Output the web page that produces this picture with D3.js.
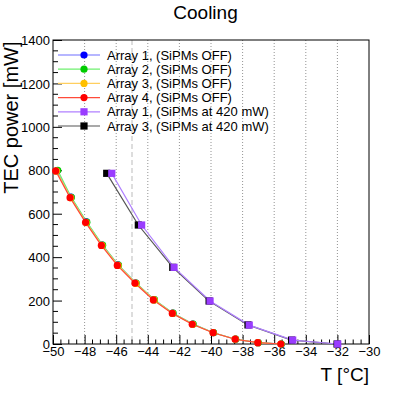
<!DOCTYPE html>
<html>
<head>
<meta charset="utf-8">
<script src="https://cdn.jsdelivr.net/npm/d3@7"></script>
<style>
  body { margin: 0; background: #fff; }
  svg { display: block; font-family: "Liberation Sans", Arial, sans-serif; }
</style>
</head>
<body>
<script>
// Chart values
var seriesNames = [
  "Array 1, (SiPMs OFF)",
  "Array 2, (SiPMs OFF)",
  "Array 3, (SiPMs OFF)",
  "Array 4, (SiPMs OFF)",
  "Array 1, (SiPMs at 420 mW)",
  "Array 3, (SiPMs at 420 mW)"
];

var arr1OffT = [-49.75, -48.86, -47.88, -46.88, -45.88, -44.76, -43.6, -42.42, -41.15, -39.85, -38.45, -37.02, -35.56];
var arr1OffP = [797, 676, 562, 456, 364, 281, 204, 142, 92, 52, 22, 6, 0];
var arr2OffT = [-49.7, -48.84, -47.86, -46.86, -45.86, -44.74, -43.58, -42.4, -41.13, -39.84, -38.44, -37.01, -35.55];
var arr2OffP = [800, 675, 561, 455, 363, 280, 204, 142, 92, 52, 22, 6, 0];
var arr3OffT = [-49.78, -48.88, -47.9, -46.9, -45.88, -44.75, -43.6, -42.43, -41.16, -39.86, -38.46, -37.03, -35.57];
var arr3OffP = [796, 673, 559, 454, 362, 279, 203, 141, 91, 52, 22, 6, 0];
var arr4OffT = [-49.83, -48.92, -47.94, -46.94, -45.93, -44.81, -43.65, -42.45, -41.19, -39.87, -38.47, -37.04, -35.58];
var arr4OffP = [797, 674, 560, 454, 362, 280, 203, 141, 91, 52, 22, 6, 0];
var arr1OnT = [-46.28, -44.39, -42.34, -40.06, -37.58, -34.83, -31.98];
var arr1OnP = [786, 548, 353, 198, 87, 18, 0];
var arr3OnT = [-46.6, -44.6, -42.42, -40.12, -37.66, -34.9, -32.02];
var arr3OnP = [786, 548, 353, 198, 88, 18, 0];

var xTicks = [-50, -48, -46, -44, -42, -40, -38, -36, -34, -32, -30];
var yTicks = [0, 200, 400, 600, 800, 1000, 1200, 1400];

var seriesT = [arr1OffT, arr2OffT, arr3OffT, arr4OffT, arr1OnT, arr3OnT];
var seriesP = [arr1OffP, arr2OffP, arr3OffP, arr4OffP, arr1OnP, arr3OnP];
var lineColors = ["#6f6fff", "#6ff06f", "#ffcf5f", "#ff4a3a", "#b080ff", "#555555"];
var markColors = ["#0000ff", "#00cc00", "#ffc000", "#ff0000", "#9a3cff", "#000000"];
var markShape = ["circle", "circle", "circle", "circle", "square", "square"];

var width = 411, height = 396;
var margin = { top: 40, right: 42, bottom: 52, left: 53 };
var w = width - margin.left - margin.right,
    h = height - margin.top - margin.bottom;

var x = d3.scaleLinear().domain([-50, -30]).range([0, w]);
var y = d3.scaleLinear().domain([0, 1400]).range([h, 0]);

var svg = d3.select("body").append("svg")
  .attr("width", width)
  .attr("height", height);

var g = svg.append("g")
  .attr("transform", "translate(" + margin.left + "," + margin.top + ")");

// vertical dotted grid
g.selectAll(".grid")
  .data(xTicks.slice(1, -1))
  .enter().append("line")
  .attr("x1", function (d) { return x(d); })
  .attr("x2", function (d) { return x(d); })
  .attr("y1", 0).attr("y2", h)
  .attr("stroke", "#777")
  .attr("stroke-width", 0.8)
  .attr("stroke-dasharray", "1,2");

// dashed marker line at -45
g.append("line")
  .attr("x1", x(-45)).attr("x2", x(-45))
  .attr("y1", 0).attr("y2", h)
  .attr("stroke", "#bbb")
  .attr("stroke-dasharray", "5,3");

// axes: ticks inward, ROOT style
var xAxis = d3.axisBottom(x).tickValues(xTicks)
  .tickFormat(function (d) { return d < 0 ? "\u2212" + Math.abs(d) : d; })
  .tickSize(-9).tickPadding(3);
var yAxis = d3.axisLeft(y).tickValues(yTicks).tickFormat(d3.format("d"))
  .tickSize(-9).tickPadding(3);

var gx = g.append("g").attr("transform", "translate(0," + h + ")").call(xAxis);
var gy = g.append("g").call(yAxis);
[gx, gy].forEach(function (a) {
  a.select(".domain").remove();
  a.selectAll("text").attr("fill", "#000").style("font-size", "13px");
  a.selectAll("line").attr("stroke", "#000");
});
gy.selectAll("text").attr("dy", "0.36em");

// minor ticks
g.selectAll(".xminor")
  .data(d3.range(-50, -29.9, 0.5).filter(function (d) { return d % 2 !== 0; }))
  .enter().append("line")
  .attr("x1", function (d) { return x(d); })
  .attr("x2", function (d) { return x(d); })
  .attr("y1", h).attr("y2", h - 4.5)
  .attr("stroke", "#000");
g.selectAll(".yminor")
  .data(d3.range(0, 1401, 50).filter(function (d) { return d % 200 !== 0; }))
  .enter().append("line")
  .attr("x1", 0).attr("x2", 5)
  .attr("y1", function (d) { return y(d); })
  .attr("y2", function (d) { return y(d); })
  .attr("stroke", "#000");

// frame
g.append("rect")
  .attr("width", w).attr("height", h)
  .attr("fill", "none").attr("stroke", "#000");

// series (black drawn under purple, red on top of OFF group)
var line = d3.line()
  .x(function (d) { return x(d[0]); })
  .y(function (d) { return y(d[1]); });

var order = [5, 4, 0, 1, 2, 3];
order.forEach(function (i) {
  var pts = seriesT[i].map(function (t, k) { return [t, seriesP[i][k]]; });
  g.append("path")
    .datum(pts)
    .attr("fill", "none")
    .attr("stroke", lineColors[i])
    .attr("stroke-width", 1.2)
    .attr("d", line);
});
order.forEach(function (i) {
  var pts = seriesT[i].map(function (t, k) { return [t, seriesP[i][k]]; });
  if (markShape[i] === "circle") {
    g.selectAll(".c" + i).data(pts).enter().append("circle")
      .attr("cx", function (d) { return x(d[0]); })
      .attr("cy", function (d) { return y(d[1]); })
      .attr("r", 3.6)
      .attr("fill", markColors[i]);
  } else {
    g.selectAll(".s" + i).data(pts).enter().append("rect")
      .attr("x", function (d) { return x(d[0]) - 3.6; })
      .attr("y", function (d) { return y(d[1]) - 3.6; })
      .attr("width", 7.2).attr("height", 7.2)
      .attr("fill", markColors[i]);
  }
});

// legend
var legend = g.selectAll(".legend")
  .data(seriesNames)
  .enter().append("g")
  .attr("transform", function (d, i) { return "translate(5," + (15 + i * 14.2) + ")"; });
legend.append("line")
  .attr("x1", 0).attr("x2", 42)
  .attr("stroke", function (d, i) { return lineColors[i]; })
  .attr("stroke-width", 1.2);
legend.each(function (d, i) {
  var s = d3.select(this);
  if (markShape[i] === "circle") {
    s.append("circle").attr("cx", 26).attr("r", 3.6).attr("fill", markColors[i]);
  } else {
    s.append("rect").attr("x", 22.4).attr("y", -3.6).attr("width", 7.2).attr("height", 7.2)
      .attr("fill", markColors[i]);
  }
});
legend.append("text")
  .attr("x", 49).attr("dy", "0.36em")
  .style("font-size", "13px")
  .text(function (d) { return d; });

// title and axis labels
svg.append("text")
  .attr("x", width / 2).attr("y", 19)
  .attr("text-anchor", "middle")
  .style("font-size", "19px")
  .text("Cooling");

svg.append("text")
  .attr("x", margin.left + w).attr("y", 381)
  .attr("text-anchor", "end")
  .style("font-size", "19px")
  .text("T [\u00b0C]");

svg.append("text")
  .attr("transform", "translate(17.5,41.5) rotate(-90)")
  .attr("text-anchor", "end")
  .style("font-size", "20px")
  .text("TEC power [mW]");
</script>
</body>
</html>
